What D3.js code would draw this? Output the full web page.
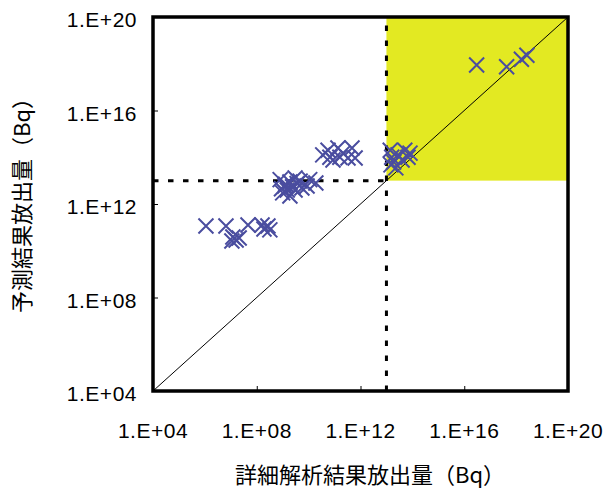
<!DOCTYPE html>
<html>
<head>
<meta charset="utf-8">
<script src="https://cdn.jsdelivr.net/npm/d3@7"></script>
<style>
  html, body { margin: 0; padding: 0; background: #fff; }
  svg { display: block; }
  .tick-label { font-family: "Liberation Sans", Arial, sans-serif; font-size: 21px; letter-spacing: 0.5px; fill: #000; }
  .title { font-family: "Noto Sans CJK JP", sans-serif; font-size: 22px; fill: #000; }
</style>
</head>
<body>
<svg id="chart" width="603" height="488"></svg>
<script>
// Detailed analysis release (x) vs. predicted release (y), Bq
const detailedBq = [
  1.1e6, 6.5e6, 1.2e7, 1.6e7, 2.1e7, 1.1e7, 4.6e7, 1.6e8, 2.7e8, 3.2e8, 1.9e8,
  8.0e8, 1.2e9, 1.9e9, 3.0e9, 4.7e9, 1.0e9, 1.9e9, 3.0e9, 5.5e9, 1.5e9, 1.1e10, 8.7e9, 1.9e10,
  1.3e9, 2.4e9, 9.0e8, 3.6e9,
  3.5e10, 5.6e10, 8.7e10, 1.35e11, 2.1e11, 1.6e11, 3.3e11, 6.2e11, 4.7e11, 6.6e10,
  1.4e13, 1.6e13, 1.9e13, 1.5e13, 2.8e13, 5.1e13, 6.8e13, 8.1e13, 2.3e13, 4.0e13,
  3.0e16, 4.3e17, 1.6e18, 2.6e18
];
const predictedBq = [
  1.15e11, 1.15e11, 3.9e10, 2.9e10, 3.5e10, 2.6e10, 1.26e11, 1.26e11, 1.15e11, 7.8e10, 8.5e10,
  1.1e13, 5.9e12, 8.7e12, 1.3e13, 9.5e12, 3.0e12, 2.2e12, 4.0e12, 4.8e12, 4.0e12, 1.1e13, 5.9e12, 7.9e12,
  7.0e12, 5.5e12, 4.5e12, 7.5e12,
  1.26e14, 2.0e14, 7.6e13, 2.5e14, 1.5e14, 1.0e14, 9.3e13, 9.3e13, 2.5e14, 1.0e14,
  2.0e14, 1.0e14, 6.3e13, 4.7e13, 1.26e14, 2.0e14, 1.0e14, 1.5e14, 3.5e13, 7.6e13,
  8.9e17, 7.4e17, 1.55e18, 2.3e18
];
const tickValues = [1e4, 1e8, 1e12, 1e16, 1e20];
const tickLabels = ["1.E+04", "1.E+08", "1.E+12", "1.E+16", "1.E+20"];
const domain = [1e4, 1e20];
const threshold = 1e13;
const xTitle = "詳細解析結果放出量（Bq）";
const yTitle = "予測結果放出量（Bq）";

const svg = d3.select("#chart");
const plot = { left: 153, right: 568, top: 17, bottom: 391 };

const x = d3.scaleLog().domain(domain).range([plot.left, plot.right]);
const y = d3.scaleLog().domain(domain).range([plot.bottom, plot.top]);

// Highlighted quadrant: both values above the threshold
svg.append("rect")
  .attr("x", x(threshold)).attr("y", y(domain[1]))
  .attr("width", x(domain[1]) - x(threshold))
  .attr("height", y(threshold) - y(domain[1]))
  .attr("fill", "#e3e922");

// 1:1 reference line
svg.append("line")
  .attr("x1", x(domain[0])).attr("y1", y(domain[0]))
  .attr("x2", x(domain[1])).attr("y2", y(domain[1]))
  .attr("stroke", "#000").attr("stroke-width", 1);

// Threshold guides
const dash = { stroke: "#000", "stroke-width": 3, "stroke-dasharray": "5.5,9.5" };
const hLine = svg.append("line")
  .attr("x1", x(domain[0])).attr("x2", x(threshold))
  .attr("y1", y(threshold)).attr("y2", y(threshold));
const vLine = svg.append("line")
  .attr("x1", x(threshold)).attr("x2", x(threshold))
  .attr("y1", y(domain[0])).attr("y2", y(domain[1]));
[hLine, vLine].forEach(l => Object.entries(dash).forEach(([k, v]) => l.attr(k, v)));

// Axes: ticks pointing inward, labels drawn separately
const xAxis = d3.axisBottom(x).tickValues(tickValues).tickSize(-5).tickFormat("");
const yAxis = d3.axisLeft(y).tickValues(tickValues).tickSize(-5).tickFormat("");
svg.append("g").attr("transform", `translate(0,${plot.bottom})`).call(xAxis)
  .call(g => g.select(".domain").remove())
  .selectAll("line").attr("stroke", "#000");
svg.append("g").attr("transform", `translate(${plot.left},0)`).call(yAxis)
  .call(g => g.select(".domain").remove())
  .selectAll("line").attr("stroke", "#000");

svg.append("g").selectAll("text").data(tickValues).join("text")
  .attr("class", "tick-label")
  .attr("x", d => x(d)).attr("y", 438)
  .attr("text-anchor", "middle")
  .text((d, i) => tickLabels[i]);

svg.append("g").selectAll("text").data(tickValues).join("text")
  .attr("class", "tick-label")
  .attr("x", 137).attr("y", d => y(d) + 10)
  .attr("text-anchor", "end")
  .text((d, i) => tickLabels[i]);

// Data markers (x shapes)
const r = 7.5;
const pts = detailedBq.map((d, i) => [d, predictedBq[i]]);
svg.append("g").selectAll("path").data(pts).join("path")
  .attr("d", d => {
    const cx = x(d[0]), cy = y(d[1]);
    return `M${cx - r},${cy - r}L${cx + r},${cy + r}M${cx - r},${cy + r}L${cx + r},${cy - r}`;
  })
  .attr("stroke", "#4a4d9f").attr("stroke-width", 2).attr("fill", "none");

// Plot frame
svg.append("rect")
  .attr("x", plot.left).attr("y", plot.top)
  .attr("width", plot.right - plot.left).attr("height", plot.bottom - plot.top)
  .attr("fill", "none").attr("stroke", "#000").attr("stroke-width", 3.5);

// Axis titles
svg.append("text").attr("class", "title")
  .attr("x", 370).attr("y", 483).attr("text-anchor", "middle")
  .text(xTitle);
svg.append("text").attr("class", "title")
  .attr("transform", "translate(30,200) rotate(-90)")
  .attr("text-anchor", "middle")
  .text(yTitle);
</script>
</body>
</html>
